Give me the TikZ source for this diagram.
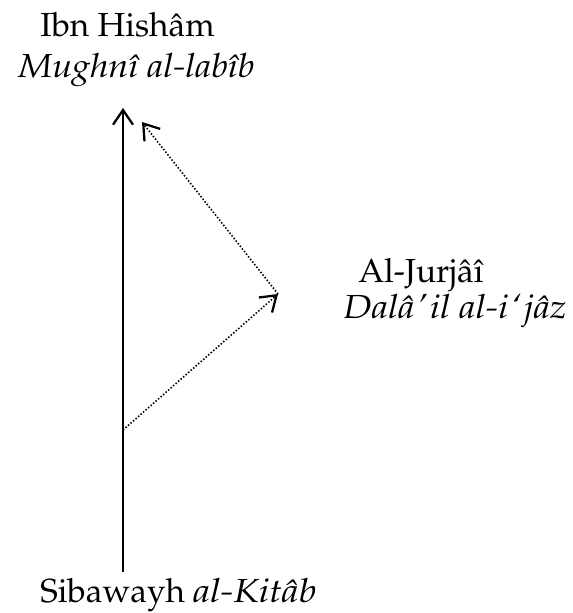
\documentclass[tikz,border=0pt]{standalone}
\usepackage[T1]{fontenc}
\usepackage{mathpazo}
\usepackage{graphicx}
\usetikzlibrary{arrows.meta}
\begin{document}
\begin{tikzpicture}[x=0.75pt,y=-0.75pt,
  lbl/.style={anchor=base west, inner sep=0pt, font=\fontsize{25}{30}\selectfont},
  tip/.style={-{Straight Barb[length=11pt,width=15pt,line width=1.7pt]}},
  solidline/.style={line width=1.5pt, tip},
  dotline/.style={line width=1.2pt, dash pattern=on 1.1pt off 1.4pt, tip}]
\useasboundingbox (0,0) rectangle (572,613);
\node[lbl] (ibn) at (40,37) {Ibn Hish\^am};
\node[lbl] (mug) at (18,78) {\scalebox{1.08}[1]{\textit{Mughn\^{\i} al-lab\^{\i}b}}};
\node[lbl] (jur) at (358,282) {Al-Jurj\^a\^{\i}};
\node[lbl] (dal) at (343,318) {\scalebox{1.1}[1]{\textit{Dal\^a\kern2pt'\kern1.5pt il al-i\kern2pt`\kern1.5pt j\^az}}};
\node[lbl] (sib) at (40,602) {Sibawayh \scalebox{1.14}[1]{\textit{al-Kit\^ab}}};
\coordinate (base) at (123,572);
\coordinate (top) at (123,108);
\coordinate (start) at (123,430);
\coordinate (mid) at (278,294);
\coordinate (upper) at (142,122);
\draw[solidline] (base) -- (top);
\draw[dotline] (start) -- (mid);
\draw[dotline] (mid) -- (upper);
\end{tikzpicture}
\end{document}
